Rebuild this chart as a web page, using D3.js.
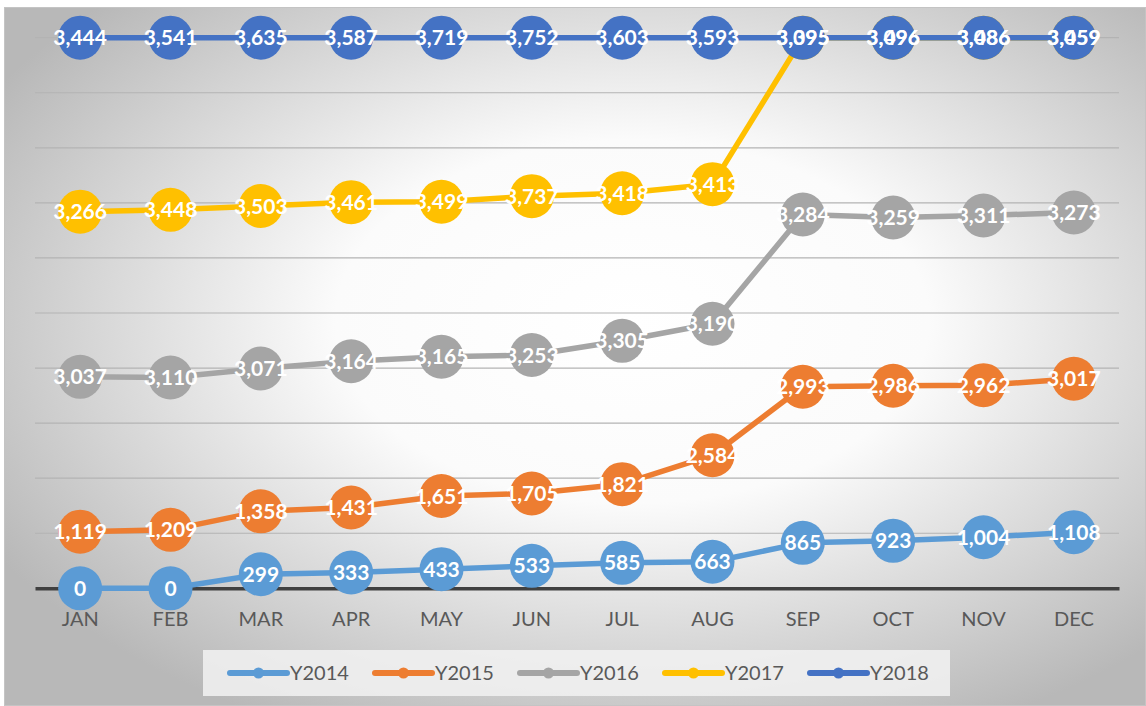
<!DOCTYPE html>
<html>
<head>
<meta charset="utf-8">
<script src="https://cdn.jsdelivr.net/npm/d3@7"></script>
<style>
  body { margin: 0; background: #fff; }
  text { font-family: Lato, "Open Sans", sans-serif; }
</style>
</head>
<body>
<div id="chart"></div>
<script>
// months on the x axis
const months = ["JAN", "FEB", "MAR", "APR", "MAY", "JUN", "JUL", "AUG", "SEP", "OCT", "NOV", "DEC"];
const seriesNames = ["Y2014", "Y2015", "Y2016", "Y2017", "Y2018"];
const seriesColors = ["#5B9BD5", "#ED7D31", "#A5A5A5", "#FFC000", "#4472C4"];

// values printed in the data labels
const y2014Labels = [0, 0, 299, 333, 433, 533, 585, 663, 865, 923, 1004, 1108];
const y2015Labels = [1119, 1209, 1358, 1431, 1651, 1705, 1821, 2584, 2993, 2986, 2962, 3017];
const y2016Labels = [3037, 3110, 3071, 3164, 3165, 3253, 3305, 3190, 3284, 3259, 3311, 3273];
const y2017Labels = [3266, 3448, 3503, 3461, 3499, 3737, 3418, 3413, 3395, 3496, 3486, 3459];
const y2018Labels = [3444, 3541, 3635, 3587, 3719, 3752, 3603, 3593, 3095, 3096, 3086, 3059];

// plotted level of each point (axis 0..10000)
const y2014Level = [0, 0, 256, 287, 347, 408, 463, 483, 826, 862, 928, 1019];
const y2015Level = [1028, 1062, 1398, 1467, 1676, 1722, 1891, 2417, 3660, 3678, 3689, 3805];
const y2016Level = [3841, 3828, 3992, 4123, 4206, 4237, 4495, 4804, 6789, 6735, 6771, 6825];
const y2017Level = [6840, 6874, 6943, 7013, 7021, 7122, 7174, 7340, 10000, 10000, 10000, 10000];
const y2018Level = [10000, 10000, 10000, 10000, 10000, 10000, 10000, 10000, 10000, 10000, 10000, 10000];

const allLabels = [y2014Labels, y2015Labels, y2016Labels, y2017Labels, y2018Labels];
const allLevels = [y2014Level, y2015Level, y2016Level, y2017Level, y2018Level];

const series = seriesNames.map((name, i) => ({
    name: name,
    color: seriesColors[i],
    points: months.map((m, j) => ({ month: m, level: allLevels[i][j], label: allLabels[i][j] }))
}));

const W = 1146, H = 706;
const plot = { left: 35, right: 1119, top: 37.7, bottom: 588.3 };

const svg = d3.select("#chart").append("svg")
    .attr("width", W)
    .attr("height", H);

// background with radial gradient like the Excel chart area
const defs = svg.append("defs");
const grad = defs.append("radialGradient")
    .attr("id", "bg")
    .attr("cx", "55%").attr("cy", "45%").attr("r", "65%");
grad.append("stop").attr("offset", "0%").attr("stop-color", "#ffffff");
grad.append("stop").attr("offset", "40%").attr("stop-color", "#fbfbfb");
grad.append("stop").attr("offset", "100%").attr("stop-color", "#b8b8b8");

svg.append("rect")
    .attr("x", 4.5).attr("y", 7.5)
    .attr("width", W - 5).attr("height", H - 8)
    .attr("fill", "url(#bg)")
    .attr("stroke", "#c4c4c4");

const x = d3.scaleBand()
    .domain(months)
    .range([plot.left, plot.right]);
const cx = m => x(m) + x.bandwidth() / 2;

const y = d3.scaleLinear()
    .domain([0, 10000])
    .range([plot.bottom, plot.top]);

// gridlines
svg.append("g")
    .selectAll("line")
    .data(y.ticks(10).filter(t => t > 0))
    .join("line")
    .attr("x1", plot.left).attr("x2", plot.right)
    .attr("y1", d => y(d)).attr("y2", d => y(d))
    .attr("stroke", "#b3b3b3")
    .attr("stroke-width", 1.2);

// x axis
const xAxis = svg.append("g")
    .attr("transform", `translate(0,${plot.bottom})`)
    .call(d3.axisBottom(x).tickSize(0).tickPadding(24));
xAxis.select(".domain")
    .attr("stroke", "#404040")
    .attr("stroke-width", 3.5);
xAxis.selectAll("text")
    .attr("fill", "#595959")
    .style("font-size", "20px");

// lines and markers
const line = d3.line()
    .x(d => cx(d.month))
    .y(d => y(d.level));

series.forEach(s => {
    const g = svg.append("g");
    g.append("path")
        .datum(s.points)
        .attr("d", line)
        .attr("fill", "none")
        .attr("stroke", s.color)
        .attr("stroke-width", 5.5)
        .attr("stroke-linejoin", "round")
        .attr("stroke-linecap", "round");
    g.selectAll("circle")
        .data(s.points)
        .join("circle")
        .attr("cx", d => cx(d.month))
        .attr("cy", d => y(d.level))
        .attr("r", 22)
        .attr("fill", s.color);
});

// data labels on top of everything
const fmt = d3.format(",");
series.forEach(s => {
    svg.append("g")
        .selectAll("text")
        .data(s.points)
        .join("text")
        .attr("x", d => cx(d.month))
        .attr("y", d => y(d.level))
        .attr("dy", "0.36em")
        .attr("text-anchor", "middle")
        .attr("fill", "#fff")
        .style("font-size", "21px")
        .style("font-weight", "bold")
        .text(d => fmt(d.label));
});

// legend
const legend = svg.append("g");
legend.append("rect")
    .attr("x", 203).attr("y", 650)
    .attr("width", 747).attr("height", 46)
    .attr("fill", "#f2f2f2")
    .attr("fill-opacity", 0.85);

const item = legend.selectAll("g.item")
    .data(series)
    .join("g")
    .attr("class", "item")
    .attr("transform", (d, i) => `translate(${230 + i * 145},673)`);
item.append("line")
    .attr("x1", 0).attr("x2", 57)
    .attr("stroke", d => d.color)
    .attr("stroke-width", 6)
    .attr("stroke-linecap", "round");
item.append("circle")
    .attr("cx", 28.5)
    .attr("r", 5.5)
    .attr("fill", d => d.color);
item.append("text")
    .attr("x", 60)
    .attr("dy", "0.36em")
    .attr("fill", "#595959")
    .style("font-size", "20px")
    .text(d => d.name);
</script>
</body>
</html>
